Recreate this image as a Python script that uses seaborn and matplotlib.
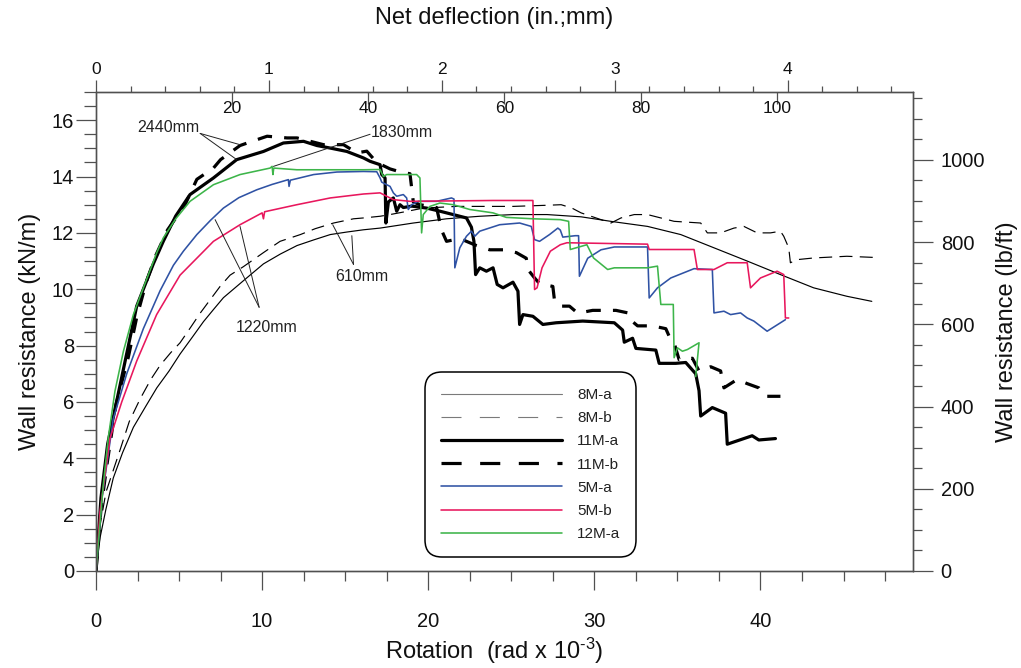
import numpy as np
import pandas as pd
import matplotlib
matplotlib.use("Agg")
import matplotlib.pyplot as plt
import seaborn as sns
from matplotlib.lines import Line2D
from matplotlib.ticker import MultipleLocator

# ---------------- data (rotation in rad x 1e-3, resistance in kN/m) ----------------
rot_8Ma = [0, 0.25, 0.6, 1.04, 1.6, 2.25, 3.0, 3.66, 4.4, 5.06,
           5.8, 6.47, 7.1, 7.67, 8.87, 10.08, 11.1, 12.1, 13.1, 14.1,
           15.1, 16.1, 17.1, 19.1, 21.1, 23.1, 25.1, 27.15, 29.2, 31.1,
           33.2, 35.2, 37.2, 39.2, 41.2, 43.2, 45.2, 46.7]
kn_8Ma = [0, 1.2, 2.2, 3.3, 4.2, 5.1, 5.85, 6.5, 7.1, 7.7,
          8.3, 8.85, 9.3, 9.7, 10.3, 10.9, 11.25, 11.55, 11.75, 11.94,
          12.03, 12.11, 12.17, 12.35, 12.5, 12.59, 12.65, 12.65, 12.57, 12.4,
          12.23, 11.94, 11.47, 11.0, 10.52, 10.05, 9.75, 9.57]

rot_8Mb = [0, 0.24, 0.6, 1.45, 2.0, 2.65, 3.3, 3.86, 4.5, 5.06,
           5.7, 6.27, 6.9, 7.47, 8.07, 8.87, 10.08, 11.08, 12.3, 13.2,
           14.3, 15.5, 16.1, 17.1, 17.7, 18.6, 19.7, 21.7, 25.1, 27.15,
           28.0, 28.65, 29.2, 31.0, 31.6, 32.4, 33.2, 34.0, 34.8, 36.4,
           36.8, 37.6, 38.4, 39.0, 39.8, 40.6, 41.2, 41.4, 41.7, 41.8,
           42.2, 43.2, 45.2, 46.8]
kn_8Mb = [0, 1.6, 2.8, 4.3, 5.3, 6.1, 6.8, 7.3, 7.75, 8.1,
          8.65, 9.15, 9.65, 10.1, 10.5, 10.8, 11.3, 11.7, 11.94, 12.15,
          12.35, 12.5, 12.53, 12.59, 12.65, 12.75, 12.88, 12.94, 12.94, 12.98,
          13.0, 12.88, 12.71, 12.35, 12.53, 12.65, 12.65, 12.53, 12.41, 12.35,
          12.0, 12.0, 12.17, 12.23, 12.0, 12.0, 12.06, 11.88, 11.47, 10.94,
          11.05, 11.11, 11.17, 11.13]

rot_11Ma = [0, 0.3, 0.7, 1.45, 2.45, 3.45, 4.05, 4.8, 5.66, 7.07,
            8.47, 10.08, 11.28, 12.49, 13.3, 14.1, 15.1, 16.1, 16.5, 17.1,
            17.2, 17.4, 17.45, 17.6, 17.9, 18.1, 18.3, 18.5, 19.0, 19.9,
            20.7, 21.5, 22.3, 22.6, 22.75, 22.85, 23.1, 23.5, 23.9, 24.15,
            24.5, 25.1, 25.4, 25.5, 25.7, 26.3, 26.9, 27.7, 29.3, 31.2,
            31.7, 31.8, 32.3, 32.5, 33.7, 33.9, 34.9, 35.5, 36.1, 36.3,
            36.4, 37.1, 37.9, 38.0, 39.5, 39.9, 40.9]
kn_11Ma = [0, 2.6, 4.5, 6.6, 9.4, 10.9, 11.7, 12.6, 13.36, 13.95,
           14.6, 14.89, 15.19, 15.25, 15.1, 15.01, 14.89, 14.66, 14.54, 14.42,
           14.07, 13.95, 12.35, 13.1, 13.24, 12.77, 13.0, 12.9, 12.95, 12.88,
           12.77, 12.65, 12.53, 12.2, 11.7, 10.52, 10.76, 10.64, 10.76, 10.17,
           10.05, 10.25, 9.93, 8.75, 9.1, 9.04, 8.75, 8.81, 8.87, 8.81,
           8.55, 8.12, 8.26, 7.9, 7.84, 7.37, 7.37, 7.4, 7.0, 6.4,
           5.5, 5.8, 5.6, 4.5, 4.8, 4.65, 4.7]

rot_11Mb = [0, 0.3, 0.64, 1.2, 1.95, 2.45, 3.05, 3.6, 4.3, 5.36,
            6.07, 7.07, 7.5, 8.67, 9.4, 10.3, 11.5, 12.1, 13.7, 14.9,
            15.7, 16.3, 16.9, 17.7, 18.4, 18.9, 19.1, 19.5, 20.5, 20.8,
            21.1, 21.9, 22.9, 23.7, 24.5, 25.3, 25.9, 26.0, 26.4, 26.7,
            27.5, 27.6, 27.9, 28.5, 29.0, 29.9, 30.7, 31.3, 32.1, 32.3,
            32.6, 33.5, 34.3, 34.6, 34.8, 35.1, 35.9, 36.3, 37.0, 37.6,
            37.8, 38.6, 39.2, 39.9, 40.3, 41.2]
kn_11Mb = [0, 2.2, 3.7, 5.9, 7.6, 9.0, 10.3, 11.2, 12.1, 13.0,
           13.9, 14.3, 14.6, 15.1, 15.25, 15.43, 15.37, 15.37, 15.13, 15.13,
           14.84, 14.9, 14.5, 14.27, 14.15, 14.1, 13.1, 13.0, 12.9, 12.1,
           11.7, 11.8, 11.55, 11.4, 11.4, 11.3, 11.1, 10.7, 10.4, 10.2,
           10.1, 9.6, 9.4, 9.4, 9.15, 9.25, 9.25, 9.25, 9.15, 8.85,
           8.7, 8.7, 8.6, 8.2, 8.1, 7.5, 7.55, 7.1, 7.25, 7.1,
           6.5, 6.8, 6.65, 6.5, 6.2, 6.2]

rot_5Ma = [0, 0.34, 1.04, 1.85, 2.85, 3.86, 4.66, 5.26, 6.07, 6.9,
           7.67, 8.6, 9.68, 10.6, 11.58, 11.62, 11.7, 13.1, 14.5, 16.1,
           16.9, 17.1, 17.2, 17.7, 17.9, 18.1, 18.5, 18.7, 18.8, 19.0,
           19.4, 20.5, 21.4, 21.55, 21.6, 21.9, 22.3, 22.6, 22.8, 23.1,
           24.3, 25.5, 26.2, 26.4, 26.7, 27.3, 27.8, 27.95, 28.1, 28.85,
           29.05, 29.1, 29.6, 30.4, 31.2, 33.2, 33.3, 33.8, 34.6, 36.0,
           37.1, 37.2, 37.8, 38.2, 38.8, 39.2, 39.6, 40.4, 41.5]
kn_5Ma = [0, 2.5, 5.4, 7.0, 8.6, 9.95, 10.85, 11.35, 11.94, 12.45,
          12.88, 13.25, 13.53, 13.72, 13.89, 13.65, 13.87, 14.07, 14.16, 14.18,
          14.17, 13.95, 13.8, 13.65, 13.42, 13.3, 13.36, 13.24, 12.83, 13.0,
          13.12, 13.12, 13.24, 13.2, 10.76, 11.47, 11.88, 12.06, 11.88, 12.06,
          12.29, 12.35, 12.23, 11.76, 11.7, 11.94, 12.17, 12.1, 11.85, 11.9,
          11.9, 10.46, 11.1, 11.4, 11.5, 11.5, 9.69, 10.05, 10.4, 10.73,
          10.7, 9.16, 9.22, 9.1, 9.16, 8.98, 8.87, 8.51, 8.92]

rot_5Mb = [0, 0.24, 0.84, 1.55, 2.45, 3.65, 5.06, 6.57, 7.07, 8.67,
           10.0, 10.08, 10.15, 12.09, 14.1, 16.1, 17.1, 17.5, 17.9, 18.9,
           23.9, 26.3, 26.4, 26.55, 26.85, 27.35, 27.95, 28.35, 31.2, 33.2,
           33.3, 36.0, 36.2, 37.2, 38.0, 39.2, 39.4, 40.0, 41.0, 41.4,
           41.5, 41.7]
kn_5Mb = [0, 2.1, 4.7, 6.0, 7.45, 9.1, 10.5, 11.4, 11.7, 12.29,
          12.71, 12.5, 12.75, 13.0, 13.24, 13.38, 13.42, 13.3, 13.18, 13.12,
          13.15, 13.15, 9.99, 10.05, 10.76, 11.35, 11.58, 11.65, 11.62, 11.6,
          11.41, 11.41, 10.7, 10.7, 10.94, 10.94, 10.05, 10.4, 10.64, 10.52,
          8.98, 8.98]

rot_12Ma = [0, 0.44, 0.74, 1.14, 1.65, 2.25, 2.85, 3.66, 4.05, 4.8,
            5.66, 7.07, 8.67, 10.48, 10.6, 10.65, 10.7, 12.09, 14.1, 16.1,
            17.1, 17.3, 17.5, 19.3, 19.5, 19.6, 19.7, 20.1, 20.7, 21.5,
            22.5, 23.9, 24.7, 26.3, 27.95, 28.45, 28.55, 29.55, 29.95, 30.8,
            31.2, 33.2, 33.8, 34.0, 34.75, 34.8, 35.0, 35.3, 35.6, 36.3,
            36.1]
kn_12Ma = [0, 3.07, 4.73, 6.38, 7.8, 9.1, 10.05, 11.3, 11.82, 12.5,
           13.12, 13.71, 14.07, 14.3, 14.36, 14.07, 14.3, 14.24, 14.24, 14.24,
           14.25, 14.0, 14.07, 14.07, 13.95, 12.0, 12.65, 12.94, 13.06, 13.0,
           12.83, 12.71, 12.55, 12.5, 12.47, 12.41, 11.41, 11.58, 11.11, 10.7,
           10.76, 10.76, 10.82, 9.46, 9.46, 7.57, 7.92, 7.8, 7.86, 8.1,
           6.9]

specimens = ["8M-a", "8M-b", "11M-a", "11M-b", "5M-a", "5M-b", "12M-a"]
rotations = [rot_8Ma, rot_8Mb, rot_11Ma, rot_11Mb, rot_5Ma, rot_5Mb, rot_12Ma]
resistances = [kn_8Ma, kn_8Mb, kn_11Ma, kn_11Mb, kn_5Ma, kn_5Mb, kn_12Ma]

ann_labels = ["2440mm", "1830mm", "1220mm", "610mm"]
ann_text_xy = [(4.34, 15.74), (18.42, 15.55), (10.28, 8.63), (16.0, 10.46)]
ann_apex_xy = [(6.27, 15.53), (16.5, 15.5), (9.82, 9.36), (15.5, 10.88)]
ann_targets = [[(8.67, 15.13), (8.47, 14.6)], [(10.68, 14.36)],
               [(7.17, 12.47), (8.67, 12.23)], [(14.25, 12.29), (15.4, 11.9)]]

KN_TO_LBFT = 68.5218
WALL_HEIGHT_MM = 2440.0

# ---------------- styling ----------------
sns.set_theme(style="ticks")
plt.rcParams["font.family"] = ["Liberation Sans", "DejaVu Sans"]
plt.rcParams["mathtext.fontset"] = "custom"
plt.rcParams["mathtext.rm"] = "Liberation Sans"
plt.rcParams["mathtext.default"] = "regular"

palette = {"8M-a": "black", "8M-b": "black", "11M-a": "black", "11M-b": "black",
           "5M-a": "#2f52a4", "5M-b": "#e8175d", "12M-a": "#3db54a"}
sizes = {"8M-a": 0.85, "8M-b": 0.85, "11M-a": 2.3, "11M-b": 2.3,
         "5M-a": 1.15, "5M-b": 1.15, "12M-a": 1.15}
dashes = {"8M-a": "", "8M-b": (11.0, 6.2), "11M-a": "", "11M-b": (4.6, 3.8),
          "5M-a": "", "5M-b": "", "12M-a": ""}

frames = []
for name, r, w in zip(specimens, rotations, resistances):
    frames.append(pd.DataFrame({"rot": r, "res": w, "spec": name}))
df = pd.concat(frames, ignore_index=True)

W, H = 1021, 668
fig = plt.figure(figsize=(W / 100, H / 100), dpi=100)
L, R, T, B = 96, 913, 92, 571
ax = fig.add_axes([L / W, 1 - B / H, (R - L) / W, (B - T) / H])

sns.lineplot(data=df, x="rot", y="res", hue="spec", style="spec", size="spec",
             hue_order=specimens, style_order=specimens, size_order=specimens,
             palette=palette, sizes=sizes, dashes=dashes,
             sort=False, estimator=None, legend=False, ax=ax)

xmax = 120.0 / WALL_HEIGHT_MM * 1000.0
ymax = 17.0
ax.set_xlim(0, xmax)
ax.set_ylim(0, ymax)

spine_col = "#505050"
for s in ax.spines.values():
    s.set_color(spine_col)
    s.set_linewidth(0.9)

ax.xaxis.set_major_locator(MultipleLocator(10))
ax.xaxis.set_minor_locator(MultipleLocator(2.5))
ax.yaxis.set_major_locator(MultipleLocator(2))
ax.yaxis.set_minor_locator(MultipleLocator(0.5))
ax.tick_params(axis="x", which="major", direction="out", length=13.5, width=0.9,
               color=spine_col, pad=16, labelsize=14.5, labelcolor="#111")
ax.tick_params(axis="x", which="minor", direction="out", length=7, width=0.9, color=spine_col)
ax.tick_params(axis="y", which="major", direction="out", length=14.4, width=0.9,
               color=spine_col, pad=1.5, labelsize=14.5, labelcolor="#111")
ax.tick_params(axis="y", which="minor", direction="out", length=8.4, width=0.9, color=spine_col)

ax.set_xlabel(r"Rotation  (rad x 10$^{\text{-}3}$)", fontsize=17, color="#111")
ax.xaxis.label.set_va("center")
ax.xaxis.set_label_coords((494 - L) / (R - L), -(651 - B) / (B - T))
ax.set_ylabel("Wall resistance (kN/m)", fontsize=17, color="#111")
ax.yaxis.label.set_va("center")
ax.yaxis.set_label_coords(-(L - 30) / (R - L), 0.5)

# right axis in lb/ft
ax_r = ax.twinx()
ax_r.set_ylim(0, ymax * KN_TO_LBFT)
ax_r.yaxis.set_major_locator(MultipleLocator(200))
ax_r.yaxis.set_minor_locator(MultipleLocator(50))
ax_r.tick_params(axis="y", which="major", direction="out", length=14.4, width=0.9,
                 color=spine_col, pad=5.5, labelsize=14.5, labelcolor="#111")
ax_r.tick_params(axis="y", which="minor", direction="out", length=6.5, width=0.9, color=spine_col)
ax_r.set_ylabel("Wall resistance (lb/ft)", fontsize=17, color="#111")
ax_r.yaxis.label.set_va("center")
ax_r.yaxis.set_label_coords((1007 - L) / (R - L), 0.5)
for s in ax_r.spines.values():
    s.set_color(spine_col)
    s.set_linewidth(0.9)

# top axis: inches (ticks outward) and mm (ticks inward, labels inside)
ax_in = ax.twiny()
ax_in.set_xlim(0, 120.0 / 25.4)
ax_in.xaxis.set_major_locator(MultipleLocator(1))
ax_in.xaxis.set_minor_locator(MultipleLocator(0.2))
ax_in.tick_params(axis="x", which="major", direction="out", length=9, width=0.9,
                  color=spine_col, pad=1.5, labelsize=12.5, labelcolor="#111")
ax_in.tick_params(axis="x", which="minor", direction="out", length=4.5, width=0.9, color=spine_col)
ax_in.set_xlabel("Net deflection (in.;mm)", fontsize=17, color="#111")
ax_in.xaxis.label.set_va("center")
ax_in.xaxis.set_label_coords((494 - L) / (R - L), (B - 18) / (B - T))
for s in ax_in.spines.values():
    s.set_color(spine_col)
    s.set_linewidth(0.9)

ax_mm = ax.twiny()
ax_mm.set_xlim(0, 120.0)
ax_mm.set_xticks([20, 40, 60, 80, 100])
ax_mm.tick_params(axis="x", which="major", direction="in", length=8.5, width=0.9,
                  color=spine_col, pad=-17.5, labelsize=12.5, labelcolor="#111")
ax_mm.tick_params(axis="x", which="minor", length=0)
for s in ax_mm.spines.values():
    s.set_visible(False)

# annotations
for lab, txy, axy, tgts in zip(ann_labels, ann_text_xy, ann_apex_xy, ann_targets):
    ax.text(txy[0], txy[1], lab, fontsize=11.5, color="#222", ha="center", va="center")
    for t in tgts:
        ax.annotate("", xy=t, xytext=axy,
                    arrowprops=dict(arrowstyle="-", color="#222", lw=0.7,
                                    shrinkA=0, shrinkB=0))

# legend
leg_handles = [
    Line2D([], [], color="#7a7a7a", lw=0.8),
    Line2D([], [], color="#7a7a7a", lw=0.8, dashes=(18, 16.5)),
    Line2D([], [], color="black", lw=2.3),
    Line2D([], [], color="black", lw=2.3, dashes=(6.3, 5.8)),
    Line2D([], [], color=palette["5M-a"], lw=1.15),
    Line2D([], [], color=palette["5M-b"], lw=1.15),
    Line2D([], [], color=palette["12M-a"], lw=1.15),
]
fs_leg = 11
leg = ax.legend(leg_handles, specimens, loc="upper left",
                bbox_to_anchor=((425 - L) / (R - L), (B - 372) / (B - T)),
                bbox_transform=ax.transAxes, borderaxespad=0,
                fontsize=fs_leg, handlelength=87 / fs_leg, handletextpad=11.0 / fs_leg,
                labelspacing=0.6, borderpad=1.05, frameon=True, fancybox=True)
frame = leg.get_frame()
frame.set_edgecolor("black")
frame.set_linewidth(1.1)
frame.set_facecolor("white")
frame.set_alpha(1)
frame.set_boxstyle("round,pad=0,rounding_size=1.1")
for t in leg.get_texts():
    t.set_color("#222")
leg.remove()
ax_mm.add_artist(leg)

fig.savefig("out.png", dpi=100)
